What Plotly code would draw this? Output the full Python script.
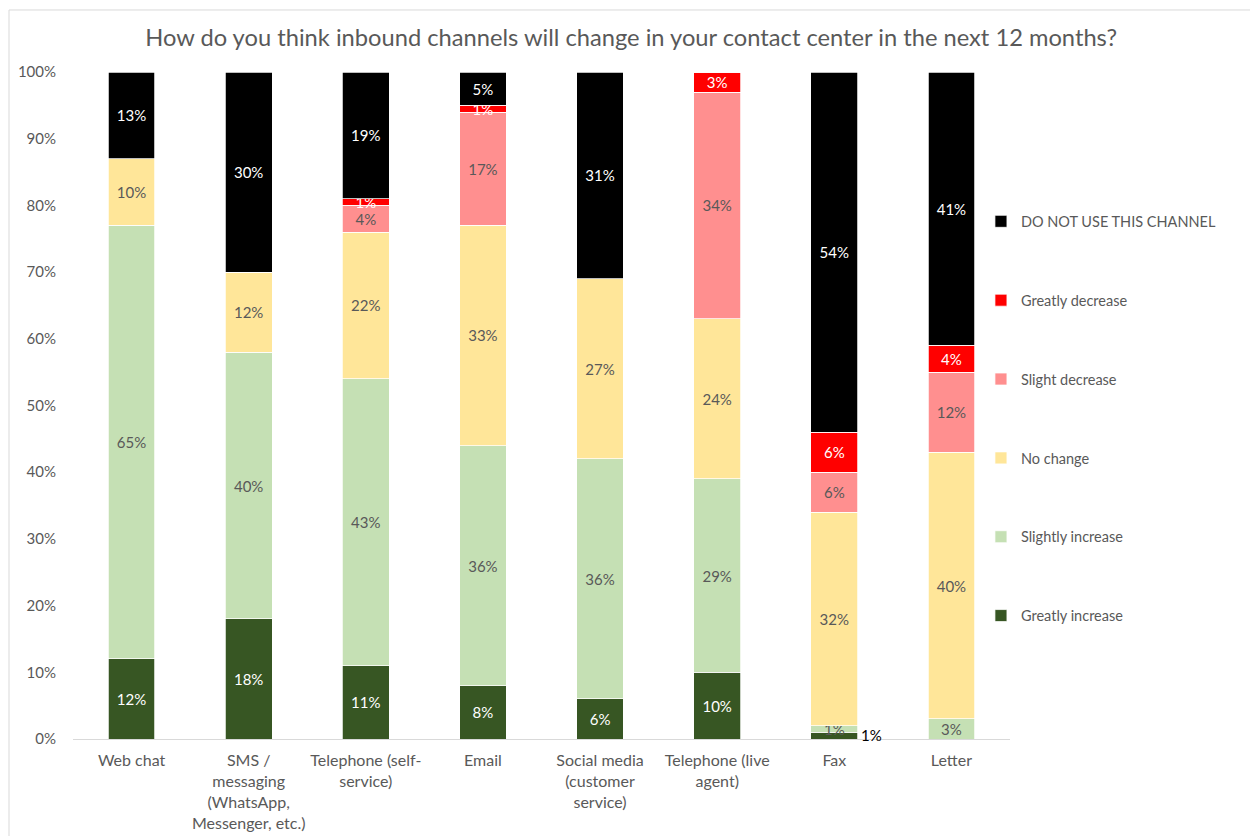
import plotly.graph_objects as go

# Survey categories (x axis)
channels = [
    "Web chat",
    "SMS /<br>messaging<br>(WhatsApp,<br>Messenger, etc.)",
    "Telephone (self-<br>service)",
    "Email",
    "Social media<br>(customer<br>service)",
    "Telephone (live<br>agent)",
    "Fax",
    "Letter",
]

# Share of respondents per answer (%), bottom to top of each stack
greatly_increase = [12, 18, 11, 8, 6, 10, 1, 0]
slightly_increase = [65, 40, 43, 36, 36, 29, 1, 3]
no_change = [10, 12, 22, 33, 27, 24, 32, 40]
slight_decrease = [0, 0, 4, 17, 0, 34, 6, 12]
greatly_decrease = [0, 0, 1, 1, 0, 3, 6, 4]
do_not_use = [13, 30, 19, 5, 31, 0, 54, 41]

series = [
    ("Greatly increase", greatly_increase, "#375623", "white"),
    ("Slightly increase", slightly_increase, "#C5E0B4", "#595959"),
    ("No change", no_change, "#FFE699", "#595959"),
    ("Slight decrease", slight_decrease, "#FF8F8F", "#595959"),
    ("Greatly decrease", greatly_decrease, "#FF0000", "white"),
    ("DO NOT USE THIS CHANNEL", do_not_use, "#000000", "white"),
]

FONT = "Lato"
GREY = "#595959"

fig = go.Figure()
n = len(series)
for i, (name, vals, color, txtcolor) in enumerate(series):
    labels = []
    for ch, v in zip(channels, vals):
        # the thin Fax sliver gets its label beside the bar instead
        if v == 0 or (name == "Greatly increase" and ch == "Fax"):
            labels.append("")
        else:
            labels.append(f"{v}%")
    fig.add_trace(go.Bar(
        x=channels, y=vals, name=name,
        marker=dict(color=color, line=dict(color="white", width=0.75)),
        text=labels, textposition="inside", insidetextanchor="middle",
        textangle=0, constraintext="none",
        textfont=dict(family=FONT, size=15, color=txtcolor),
        legendgroup=f"g{i}", legendrank=(n - i) * 10,
        hoverinfo="x+y+name",
    ))

# Label for the Fax "Greatly increase" sliver, placed to the right of the bar
fax_idx = channels.index("Fax")
fig.add_annotation(
    x=channels[fax_idx], y=greatly_increase[fax_idx] / 2,
    text=f"{greatly_increase[fax_idx]}%", showarrow=False,
    xanchor="left", yanchor="middle", xshift=25, yshift=1,
    font=dict(family=FONT, size=15, color="#000000"),
)

# Light frame around the whole chart area
fig.add_shape(
    type="rect", xref="paper", yref="paper",
    x0=-0.0683, x1=1.30, y0=-0.2, y1=1.093,
    line=dict(color="#D9D9D9", width=1), fillcolor="rgba(0,0,0,0)",
    layer="below",
)

fig.update_layout(
    width=1250, height=836,
    barmode="stack", bargap=0.6,
    paper_bgcolor="white", plot_bgcolor="white",
    margin=dict(l=73, r=240, t=72, b=97),
    font=dict(family=FONT, size=15, color=GREY),
    title=dict(
        text="How do you think inbound channels will change in your contact center in the next 12 months?",
        x=0.505, xanchor="center", y=0.955, yanchor="middle",
        font=dict(family=FONT, size=23.7, color=GREY),
    ),
    xaxis=dict(
        showline=True, linecolor="#D9D9D9", linewidth=1,
        ticks="", showgrid=False, tickangle=0,
        ticklabelstandoff=7, automargin=False,
        tickfont=dict(family=FONT, size=16, color=GREY),
    ),
    yaxis=dict(
        range=[0, 100], dtick=10, ticksuffix="%",
        showgrid=False, zeroline=False, showline=False, ticks="",
        ticklabelstandoff=16, automargin=False,
        tickfont=dict(family=FONT, size=15, color=GREY),
    ),
    legend=dict(
        x=0.969, xanchor="left", y=0.80, yanchor="top",
        traceorder="grouped", tracegroupgap=57,
        font=dict(family=FONT, size=14.5, color=GREY),
        bgcolor="rgba(0,0,0,0)",
    ),
    showlegend=True,
)

fig.write_html("out.html")
